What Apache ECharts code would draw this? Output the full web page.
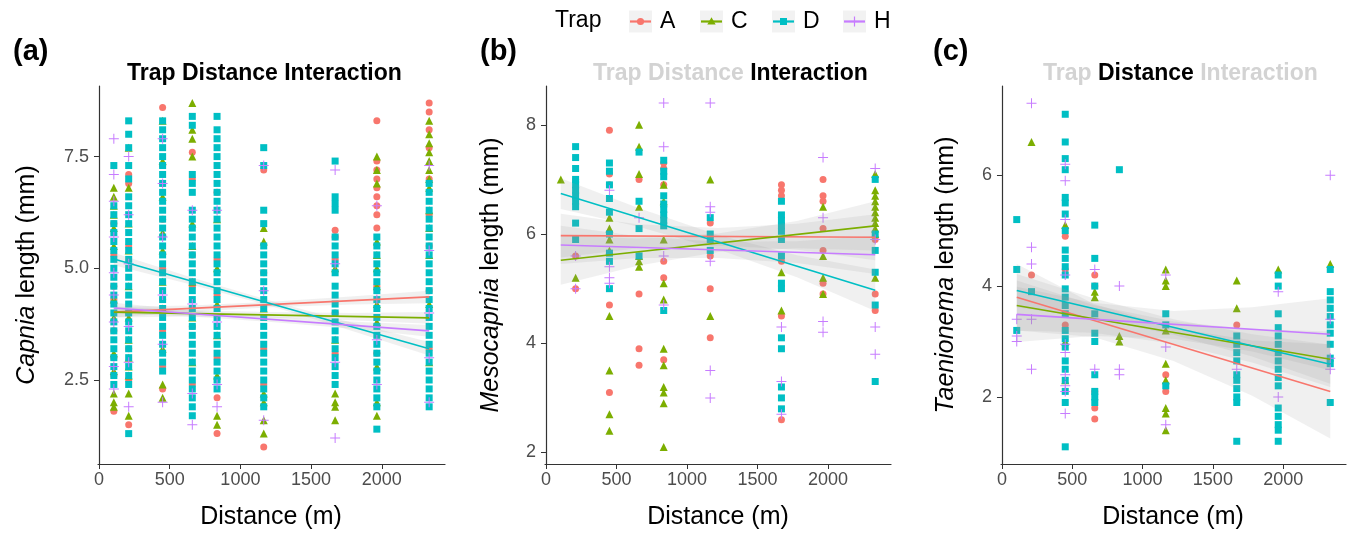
<!DOCTYPE html>
<html>
<head>
<meta charset="utf-8">
<script src="https://cdn.jsdelivr.net/npm/echarts@6/dist/echarts.min.js"></script>
<style>
  html, body { margin: 0; padding: 0; background: #fff; }
  #chart { width: 1353px; height: 535px; }
</style>
</head>
<body>
<div id="chart"></div>
<script>
// sampling distances (m), one column of points per distance
const DIST = [105, 210, 450, 660, 835, 1165, 1670, 1965, 2335];
const X_TICKS = [0, 500, 1000, 1500, 2000];

// (a) Capnia length (mm), per trap, one list per distance
const capA = [
  [6.0, 5.3, 4.6, 4.3, 3.6, 3.0, 2.6, 1.8],
  [7.1, 6.9, 5.5, 4.0, 3.2, 2.5, 1.5],
  [8.6, 7.3, 6.9, 6.1, 5.0, 4.3, 3.6, 2.8, 2.3],
  [7.6, 7.0, 5.3, 4.6, 3.7, 2.4],
  [6.7, 5.2, 4.4, 3.0, 2.1, 1.3],
  [7.2, 4.9, 3.2, 2.4, 1.0],
  [5.85, 5.7, 5.2, 4.0, 3.1],
  [8.3, 7.4, 7.2, 7.0, 6.8, 6.6, 6.4, 6.2, 5.9, 4.6, 3.1],
  [8.7, 8.5, 8.1, 7.7, 7.0, 6.2, 5.5, 4.5, 3.2]
];
const capC = [
  [6.8, 6.6, 6.4, 6.2, 5.9, 5.5, 4.3, 3.9, 3.1, 2.7, 2.2, 2.0, 1.9],
  [7.7, 6.8, 6.0, 5.4, 4.6, 3.9, 3.4, 3.0, 2.8, 2.6, 2.2, 1.7],
  [8.3, 7.4, 6.6, 5.8, 5.4, 4.7, 4.1, 3.2, 2.4, 2.1],
  [8.7, 8.1, 7.9, 7.5, 6.0, 5.5, 4.7, 3.9, 2.9],
  [6.1, 5.0, 4.2, 3.5, 2.6, 1.7, 1.5],
  [5.9, 5.6, 4.1, 2.2, 2.0, 1.6, 1.3],
  [5.0, 3.4, 2.2, 2.0, 1.9, 1.6],
  [7.5, 7.2, 6.9, 5.6, 5.3, 5.0, 4.6, 4.2, 3.8, 2.8, 2.0, 1.7],
  [8.3, 8.0, 7.8, 7.6, 7.4, 7.2, 7.0, 6.8, 6.3, 5.9, 5.3, 4.2, 2.9]
];
const capD = [
  [7.3, 6.4, 6.2, 6.0, 5.8, 5.6, 5.4, 5.2, 5.0, 4.8, 4.6, 4.4, 4.2, 4.0, 3.8, 3.6, 3.4, 3.2, 3.0, 2.8, 2.6, 2.4],
  [8.3, 8.0, 7.7, 7.3, 7.0, 6.6, 6.4, 6.2, 6.0, 5.8, 5.6, 5.4, 5.2, 5.0, 4.8, 4.6, 4.4, 4.2, 4.0, 3.8, 3.6, 3.4, 3.2, 3.0, 2.8, 2.6, 2.4, 1.3],
  [8.3, 8.1, 7.9, 7.7, 7.5, 7.3, 7.1, 6.9, 6.7, 6.5, 6.3, 6.1, 5.9, 5.7, 5.5, 5.3, 5.1, 4.9, 4.7, 4.5, 4.3, 4.1, 3.9, 3.7, 3.5, 3.3, 3.1, 2.9, 2.7],
  [8.4, 8.2, 7.1, 6.9, 6.7, 6.3, 6.1, 5.9, 5.7, 5.5, 5.3, 5.1, 4.9, 4.7, 4.5, 4.3, 4.1, 3.9, 3.7, 3.5, 3.3, 3.1, 2.9, 2.7, 2.5, 2.3, 2.1, 1.9, 1.7],
  [8.4, 8.1, 7.9, 7.7, 7.5, 7.3, 7.1, 6.9, 6.7, 6.5, 6.3, 6.1, 5.9, 5.7, 5.5, 5.3, 5.1, 4.9, 4.7, 4.5, 4.3, 4.1, 3.9, 3.7, 3.5, 3.3, 3.1, 2.9, 2.7, 2.5, 2.3],
  [7.7, 7.3, 6.3, 6.0, 5.5, 5.3, 5.1, 4.9, 4.7, 4.5, 4.3, 4.1, 3.9, 3.7, 3.5, 3.3, 3.1, 2.9, 2.7, 2.5, 2.3, 2.1, 1.9],
  [7.4, 6.6, 6.45, 6.3, 5.7, 5.5, 5.3, 5.1, 4.9, 4.6, 4.4, 4.2, 4.0, 3.8, 3.6, 3.4, 3.2, 3.0, 2.8, 2.6, 2.4],
  [5.7, 5.5, 5.3, 5.1, 4.9, 4.7, 4.5, 4.3, 4.1, 3.9, 3.7, 3.5, 3.3, 3.1, 2.9, 2.7, 2.5, 2.3, 2.1, 1.9, 1.4],
  [6.9, 6.7, 6.5, 6.3, 6.1, 5.9, 5.7, 5.5, 5.3, 5.1, 4.9, 4.7, 4.5, 4.3, 4.1, 3.9, 3.7, 3.5, 3.3, 3.1, 2.9, 2.7, 2.5, 2.3, 2.1, 1.9]
];
const capH = [
  [7.9, 7.1, 6.5, 5.7, 4.9, 4.4, 3.8, 2.8, 2.3],
  [7.5, 6.2, 5.1, 3.7, 2.9, 1.9],
  [7.9, 6.9, 5.7, 4.4, 3.3, 2.0],
  [6.3, 4.2, 2.2, 1.5],
  [6.3, 3.8, 2.4, 1.9],
  [7.3, 4.5, 1.6],
  [7.2, 5.1, 2.9, 1.2],
  [6.4, 4.3, 3.4, 2.4],
  [7.3, 5.4, 4.0, 3.0, 2.0]
];

// (b) Mesocapnia length (mm)
const mesA = [
  [], [7.0, 5.6, 5.0], [7.9, 7.1, 6.9, 4.7, 3.1], [7.0, 4.9, 3.9, 3.6],
  [7.3, 7.2, 6.9, 5.5, 5.2, 3.7], [6.2, 5.6, 5.0, 4.1], [6.9, 6.8, 6.7, 5.5, 4.5, 2.6],
  [7.0, 6.7, 6.6, 6.1, 5.7, 5.1, 4.9], [5.9, 4.9, 4.6]
];
const mesC = [
  [7.0], [5.2], [6.3, 6.1, 5.9, 5.7, 4.5, 3.5, 2.7, 2.4], [8.0, 7.6, 7.1, 6.5, 5.6, 5.5, 5.4],
  [6.9, 6.6, 5.9, 5.1, 4.8, 3.9, 3.6, 3.2, 3.1, 2.9, 2.1], [7.0, 4.5], [5.3, 4.6],
  [6.5, 5.6, 5.2, 4.9], [7.1, 6.8, 6.7, 6.6, 6.5, 6.4, 6.3, 6.2, 6.1, 6.0, 5.2]
];
const mesD = [
  [], [7.6, 7.4, 7.2, 7.0, 6.9, 6.8, 6.7, 6.6, 6.5, 6.2, 5.9], [7.3, 7.15, 6.9, 6.65, 6.4, 6.0, 5.65, 5.5, 5.0],
  [7.5, 6.6, 6.1, 5.6], [7.35, 7.15, 7.05, 6.7, 6.55, 6.45, 6.35, 6.25, 6.15, 4.6], [6.3, 6.0, 5.9, 5.7],
  [6.6, 6.35, 6.25, 6.15, 6.05, 5.9, 5.6, 5.1, 5.0, 4.1, 3.9, 3.2, 3.0, 2.8], [], [7.0, 6.0, 5.7, 5.3, 4.7, 3.3]
];
const mesH = [
  [], [5.6, 5.0], [6.8, 5.4, 5.2, 5.1], [6.3], [8.4, 7.6, 5.6, 4.7],
  [8.4, 6.5, 6.4, 5.5, 3.5, 3.0], [4.3, 3.3, 2.7], [7.4, 6.3, 4.4, 4.2], [7.2, 5.9, 4.3, 3.8]
];

// (c) Taenionema length (mm)
const taeA = [
  [], [4.2], [4.9, 4.3, 3.3], [4.2, 4.0, 2.1, 1.8, 1.6], [], [2.4, 2.1], [3.3], [], []
];
const taeC = [
  [], [6.6], [5.1, 3.0, 2.3], [3.9, 3.8], [3.1, 3.0],
  [4.3, 4.1, 4.0, 3.2, 2.6, 2.3, 1.8, 1.7, 1.4], [4.1, 3.6], [4.3], [4.4]
];
const taeD = [
  [5.2, 4.3, 3.2],
  [3.9],
  [7.1, 6.6, 6.3, 6.1, 5.6, 5.5, 5.3, 5.0, 4.65, 4.5, 4.35, 4.2, 3.95, 3.8, 3.65, 3.5, 3.2, 3.05, 2.9, 2.65, 2.5, 2.3, 2.1, 1.9, 1.1],
  [5.1, 4.5, 4.0, 3.5, 3.15, 3.0, 2.4, 2.1, 2.0, 1.9],
  [6.1],
  [3.5, 3.3, 2.2],
  [3.1, 2.95, 2.8, 2.65, 2.4, 2.3, 2.15, 2.0, 1.9, 1.2],
  [4.2, 4.0, 3.5, 3.25, 3.1, 2.95, 2.8, 2.65, 2.5, 2.35, 2.2, 1.8, 1.65, 1.5, 1.4, 1.2],
  [4.3, 3.9, 3.75, 3.6, 3.45, 3.3, 3.15, 2.95, 2.7, 2.6, 1.9]
];
const taeH = [
  [3.4, 3.1, 3.0], [7.3, 4.7, 4.4, 3.4, 2.5], [6.2, 5.9, 5.2, 4.2, 2.95, 2.8, 2.4, 2.2, 2.1, 1.7],
  [4.3, 2.5], [4.0, 2.5, 2.4], [4.2, 2.9, 1.5], [2.5], [3.9, 2.0], [6.0, 3.4, 2.7, 2.5]
];

// fitted lines: value at first and last distance
const FIT_X = [105, 2335];
const capFit = { A: [4.02, 4.36], C: [4.02, 3.89], D: [5.21, 3.20], H: [4.11, 3.60] };
const mesFit = { A: [5.97, 5.94], C: [5.52, 6.15], D: [6.74, 4.97], H: [5.80, 5.62] };
const taeFit = { A: [3.80, 2.10], C: [3.65, 2.68], D: [3.92, 2.59], H: [3.49, 3.13] };

// confidence ribbons (lower / upper) at these distances
const BAND_X = [105, 650, 1220, 1780, 2335];
const capLo = { A: [3.90, 4.03, 4.13, 4.19, 4.22], C: [3.90, 3.92, 3.90, 3.84, 3.76], D: [5.07, 4.64, 4.15, 3.61, 3.05], H: [3.99, 3.92, 3.80, 3.65, 3.47] };
const capHi = { A: [4.14, 4.17, 4.25, 4.37, 4.50], C: [4.14, 4.06, 4.02, 4.00, 4.02], D: [5.35, 4.80, 4.27, 3.79, 3.35], H: [4.23, 4.06, 3.92, 3.81, 3.73] };
const mesLo = { A: [5.57, 5.74, 5.79, 5.71, 5.52], C: [5.07, 5.42, 5.67, 5.74, 5.70], D: [6.46, 6.14, 5.72, 5.21, 4.59], H: [5.45, 5.56, 5.56, 5.47, 5.27] };
const mesHi = { A: [6.37, 6.18, 6.11, 6.19, 6.36], C: [5.97, 5.92, 6.01, 6.24, 6.60], D: [7.02, 6.48, 5.98, 5.61, 5.35], H: [6.15, 5.96, 5.86, 5.87, 5.97] };
const taeLo = { A: [3.20, 3.08, 2.65, 2.02, 1.25], C: [3.20, 3.16, 2.96, 2.62, 2.18], D: [3.62, 3.42, 3.12, 2.73, 2.24], H: [2.99, 3.10, 3.05, 2.82, 2.48] };
const taeHi = { A: [4.40, 3.68, 3.25, 3.02, 2.95], C: [4.10, 3.66, 3.36, 3.22, 3.18], D: [4.22, 3.78, 3.40, 3.13, 2.94], H: [3.99, 3.70, 3.55, 3.62, 3.78] };

const TRAPS = ["A", "C", "D", "H"];
const COLORS = ["#F8766D", "#7CAE00", "#00BFC4", "#C77CFF"];
const CROSS = "path://M4.5,0H5.5V4.5H10V5.5H5.5V10H4.5V5.5H0V4.5H4.5Z";
const SYMBOLS = ["circle", "triangle", "rect", CROSS];
const SIZES = [7, 8, 7, 10];
const FONT = '"Liberation Sans", Arial, sans-serif';

const panels = [
  { pts: [capA, capC, capD, capH], fit: capFit, lo: capLo, hi: capHi, yMin: 0.62, yMax: 9.08, yTicks: [2.5, 5.0, 7.5], dec: 1 },
  { pts: [mesA, mesC, mesD, mesH], fit: mesFit, lo: mesLo, hi: mesHi, yMin: 1.79, yMax: 8.71, yTicks: [2, 4, 6, 8], dec: 0 },
  { pts: [taeA, taeC, taeD, taeH], fit: taeFit, lo: taeLo, hi: taeHi, yMin: 0.79, yMax: 7.61, yTicks: [2, 4, 6], dec: 0 }
];

function toPoints(cols) {
  const out = [];
  cols.forEach((vals, i) => vals.forEach((v) => out.push([DIST[i], v])));
  return out;
}

function bandSeries(idx, lo, hi) {
  const data = BAND_X.map((x, i) => [x, lo[i], hi[i]]);
  return {
    type: "custom",
    xAxisIndex: idx,
    yAxisIndex: idx,
    data: data,
    silent: true,
    z: 3,
    renderItem: (params, api) => {
      if (params.dataIndex !== 0) return null;
      const top = data.map((d) => api.coord([d[0], d[2]]));
      const bot = data.map((d) => api.coord([d[0], d[1]])).reverse();
      return {
        type: "polygon",
        shape: { points: top.concat(bot) },
        style: { fill: "rgba(153,153,153,0.15)" },
      };
    },
  };
}

const series = [];
panels.forEach((p, idx) => {
  TRAPS.forEach((t, k) => {
    series.push({
      type: "scatter",
      name: t,
      xAxisIndex: idx,
      yAxisIndex: idx,
      data: toPoints(p.pts[k]),
      symbol: SYMBOLS[k],
      symbolSize: SIZES[k],
      itemStyle: { color: COLORS[k], opacity: 1 },
      z: 2,
    });
  });
  TRAPS.forEach((t) => series.push(bandSeries(idx, p.lo[t], p.hi[t])));
  TRAPS.forEach((t, k) => {
    series.push({
      type: "line",
      xAxisIndex: idx,
      yAxisIndex: idx,
      data: [[FIT_X[0], p.fit[t][0]], [FIT_X[1], p.fit[t][1]]],
      showSymbol: false,
      silent: true,
      lineStyle: { color: COLORS[k], width: 1.6 },
      z: 4,
    });
  });
});

const grids = [
  { left: 98, top: 86, width: 347, height: 378 },
  { left: 545, top: 86, width: 346, height: 378 },
  { left: 1001, top: 86, width: 345, height: 378 },
];

const axisLine = { show: true, lineStyle: { color: "#333", width: 1.2 } };

const xAxes = grids.map((g, i) => ({
  type: "value",
  gridIndex: i,
  min: -7,
  max: 2447,
  axisLine: axisLine,
  axisTick: { show: true, length: 5, customValues: X_TICKS, lineStyle: { color: "#333" } },
  axisLabel: {
    customValues: X_TICKS,
    color: "#4d4d4d",
    fontSize: 18,
    fontFamily: FONT,
    margin: 7,
    formatter: (v) => String(v),
  },
  splitLine: { show: false },
}));

const yAxes = panels.map((p, i) => ({
  type: "value",
  gridIndex: i,
  min: p.yMin,
  max: p.yMax,
  axisLine: axisLine,
  axisTick: { show: true, length: 5, customValues: p.yTicks, lineStyle: { color: "#333" } },
  axisLabel: {
    customValues: p.yTicks,
    color: "#4d4d4d",
    fontSize: 18,
    fontFamily: FONT,
    margin: 9,
    formatter: (v) => v.toFixed(p.dec),
  },
  splitLine: { show: false },
}));

// texts
function txt(x, y, text, size, opts) {
  return {
    type: "text",
    x: x,
    y: y,
    rotation: (opts && opts.rot) || 0,
    silent: true,
    style: Object.assign(
      {
        text: text,
        fill: "#000",
        fontSize: size,
        fontFamily: FONT,
        textAlign: "left",
        align: "left",
        textVerticalAlign: "middle",
        verticalAlign: "middle",
      },
      opts && opts.style
    ),
  };
}

const GREY = "#d3d3d3";
const titleRich = (c1, c2, c3) => ({
  a: { fill: c1, fontSize: 23, fontWeight: "bold", fontFamily: FONT },
  b: { fill: c2, fontSize: 23, fontWeight: "bold", fontFamily: FONT },
  c: { fill: c3, fontSize: 23, fontWeight: "bold", fontFamily: FONT },
});
const TITLE_TEXT = "{a|Trap }{b|Distance }{c|Interaction}";

const yTitleRich = {
  i: { fontStyle: "italic", fontSize: 25, fontFamily: FONT, fill: "#000" },
  n: { fontSize: 25, fontFamily: FONT, fill: "#000" },
};
const center = { textAlign: "center", align: "center" };

const graphic = [
  txt(13, 52, "(a)", 29, { style: { fontWeight: "bold" } }),
  txt(480, 52, "(b)", 29, { style: { fontWeight: "bold" } }),
  txt(933, 52, "(c)", 29, { style: { fontWeight: "bold" } }),
  txt(127, 74, TITLE_TEXT, 23, { style: { rich: titleRich("#000", "#000", "#000") } }),
  txt(593, 74, TITLE_TEXT, 23, { style: { rich: titleRich(GREY, GREY, "#000") } }),
  txt(1043, 74, TITLE_TEXT, 23, { style: { rich: titleRich(GREY, "#000", GREY) } }),
  txt(27, 275, "{i|Capnia}{n| length (mm)}", 25, { rot: Math.PI / 2, style: Object.assign({ rich: yTitleRich }, center) }),
  txt(491, 275, "{i|Mesocapnia}{n| length (mm)}", 25, { rot: Math.PI / 2, style: Object.assign({ rich: yTitleRich }, center) }),
  txt(946, 275, "{i|Taenionema}{n| length (mm)}", 25, { rot: Math.PI / 2, style: Object.assign({ rich: yTitleRich }, center) }),
  txt(271, 517, "Distance (m)", 25, { style: center }),
  txt(718, 517, "Distance (m)", 25, { style: center }),
  txt(1173, 517, "Distance (m)", 25, { style: center }),
  txt(555, 20.5, "Trap", 23),
];

// legend keys
const KEY_X = [629, 700, 772, 843];
TRAPS.forEach((t, k) => {
  const x0 = KEY_X[k], cx = x0 + 11.5, cy = 21.5, col = COLORS[k];
  graphic.push({ type: "rect", silent: true, shape: { x: x0, y: 10.5, width: 23, height: 22 }, style: { fill: "#f2f2f2" } });
  graphic.push({ type: "line", silent: true, shape: { x1: x0 + 1, y1: cy, x2: x0 + 22, y2: cy }, style: { stroke: col, lineWidth: 2.2 } });
  if (k === 0) graphic.push({ type: "circle", silent: true, shape: { cx: cx, cy: cy, r: 3.6 }, style: { fill: col } });
  if (k === 1) graphic.push({ type: "polygon", silent: true, shape: { points: [[cx, cy - 4.2], [cx + 4.2, cy + 3], [cx - 4.2, cy + 3]] }, style: { fill: col } });
  if (k === 2) graphic.push({ type: "rect", silent: true, shape: { x: cx - 3.5, y: cy - 3.5, width: 7, height: 7 }, style: { fill: col } });
  if (k === 3) {
    graphic.push({ type: "line", silent: true, shape: { x1: cx - 5, y1: cy, x2: cx + 5, y2: cy }, style: { stroke: col, lineWidth: 1.2 } });
    graphic.push({ type: "line", silent: true, shape: { x1: cx, y1: cy - 5, x2: cx, y2: cy + 5 }, style: { stroke: col, lineWidth: 1.2 } });
  }
  graphic.push(txt(x0 + 31, 21.5, t, 23));
});

const chart = echarts.init(document.getElementById("chart"));
chart.setOption({
  animation: false,
  backgroundColor: "#fff",
  grid: grids,
  xAxis: xAxes,
  yAxis: yAxes,
  series: series,
  graphic: graphic,
});
window.addEventListener("resize", () => chart.resize());
</script>
</body>
</html>
